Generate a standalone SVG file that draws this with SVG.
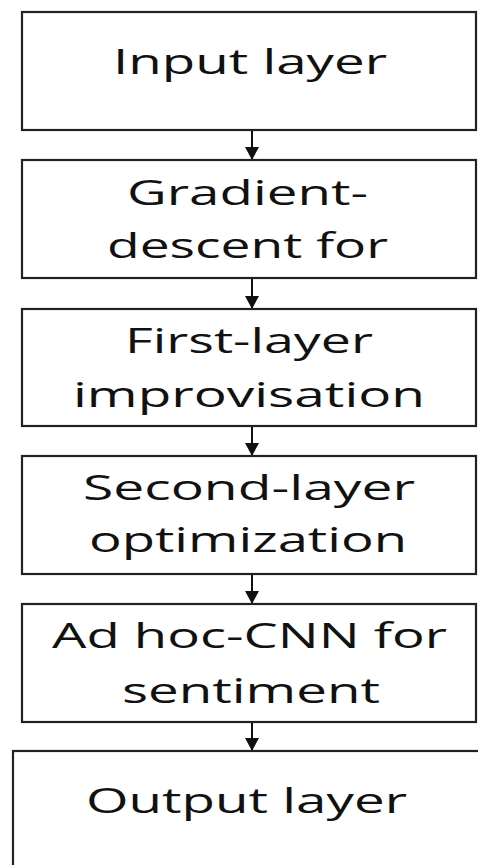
<svg xmlns="http://www.w3.org/2000/svg" width="478" height="865" viewBox="0 0 478 865">
<style>
.box{fill:#fff;stroke:#222;stroke-width:2.2}
.t{font-family:"Open Sans","Liberation Sans",sans-serif;font-size:35px;fill:#111}
.c{stroke:#111;stroke-width:2;fill:none}
</style>
<defs>
<marker id="ah" markerUnits="userSpaceOnUse" markerWidth="14" markerHeight="16" viewBox="0 0 14 16" refX="13" refY="8" orient="auto">
<path d="M0,1 L13,8 L0,15 z" fill="#111"/>
</marker>
</defs>
<rect width="478" height="865" fill="#fff"/>
<g id="connectors">
<line class="c" x1="252" y1="130" x2="252" y2="160" marker-end="url(#ah)"/>
<line class="c" x1="252" y1="278" x2="252" y2="309" marker-end="url(#ah)"/>
<line class="c" x1="252" y1="426" x2="252" y2="456" marker-end="url(#ah)"/>
<line class="c" x1="252" y1="574" x2="252" y2="604" marker-end="url(#ah)"/>
<line class="c" x1="252" y1="722" x2="252" y2="751" marker-end="url(#ah)"/>
</g>
<g id="n1">
<rect class="box" x="22" y="12" width="454" height="118"/>
<text class="t" x="113" y="74" textLength="274" lengthAdjust="spacingAndGlyphs">Input layer</text>
</g>
<g id="n2">
<rect class="box" x="22" y="160" width="454" height="118"/>
<text class="t" x="127" y="205" textLength="241" lengthAdjust="spacingAndGlyphs">Gradient-</text>
<text class="t" x="107" y="258" textLength="281" lengthAdjust="spacingAndGlyphs">descent for</text>
</g>
<g id="n3">
<rect class="box" x="22" y="309" width="454" height="117"/>
<text class="t" x="125" y="353" textLength="248" lengthAdjust="spacingAndGlyphs">First-layer</text>
<text class="t" x="73" y="407" textLength="352" lengthAdjust="spacingAndGlyphs">improvisation</text>
</g>
<g id="n4">
<rect class="box" x="22" y="456" width="454" height="118"/>
<text class="t" x="83" y="500" textLength="332" lengthAdjust="spacingAndGlyphs">Second-layer</text>
<text class="t" x="89" y="552" textLength="318" lengthAdjust="spacingAndGlyphs">optimization</text>
</g>
<g id="n5">
<rect class="box" x="22" y="604" width="454" height="118"/>
<text class="t" x="52" y="648" textLength="395" lengthAdjust="spacingAndGlyphs">Ad hoc-CNN for</text>
<text class="t" x="122" y="703" textLength="258" lengthAdjust="spacingAndGlyphs">sentiment</text>
</g>
<g id="n6">
<rect class="box" x="13" y="751" width="480" height="130"/>
<text class="t" x="86" y="813" textLength="321" lengthAdjust="spacingAndGlyphs">Output layer</text>
</g>
</svg>
